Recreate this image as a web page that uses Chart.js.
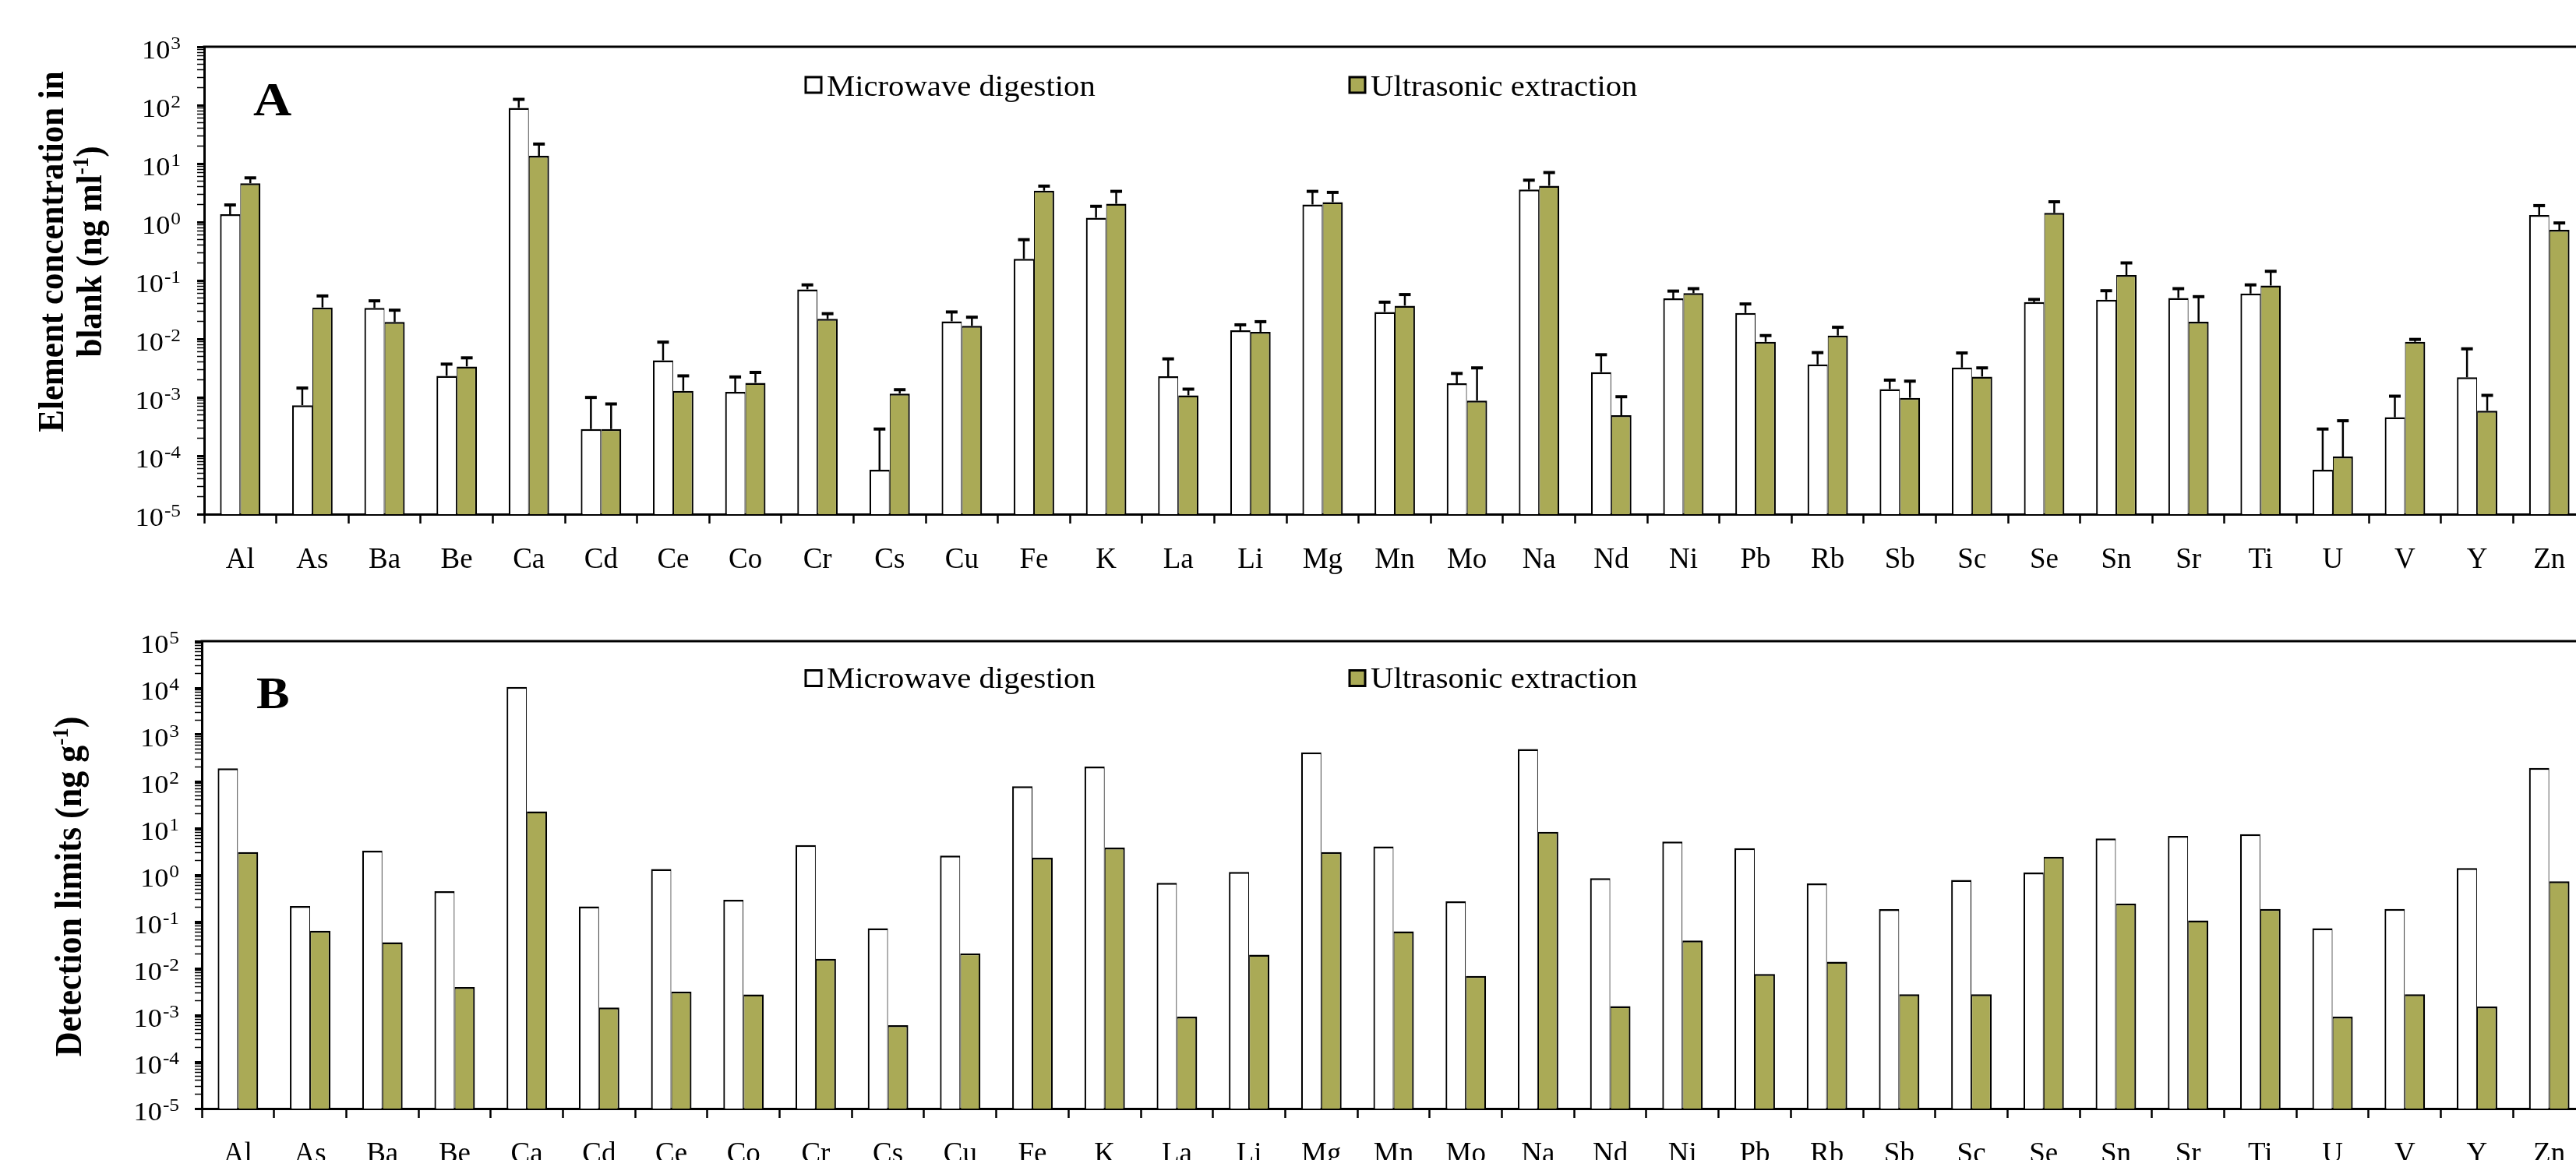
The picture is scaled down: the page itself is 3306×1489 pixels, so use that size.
<!DOCTYPE html>
<html>
<head>
<meta charset="utf-8">
<title>Element blanks and detection limits</title>
<script src="https://cdn.jsdelivr.net/npm/chart.js@4.4.1/dist/chart.umd.min.js"></script>
<style>
  html, body { margin: 0; padding: 0; background: #fff; overflow: hidden; }
  #wrap { position: relative; width: 3306px; height: 1489px; overflow: hidden; background: #fff; }
  canvas { position: absolute; left: 0; }
  #blankChart { top: 0; }
  #dlChart { top: 745px; }
</style>
</head>
<body>
<div id="wrap">
  <canvas id="blankChart" width="3330" height="745"></canvas>
  <canvas id="dlChart" width="3330" height="744"></canvas>
</div>
<script>
// data
const elements = ['Al', 'As', 'Ba', 'Be', 'Ca', 'Cd', 'Ce', 'Co', 'Cr', 'Cs', 'Cu', 'Fe', 'K', 'La', 'Li', 'Mg',
    'Mn', 'Mo', 'Na', 'Nd', 'Ni', 'Pb', 'Rb', 'Sb', 'Sc', 'Se', 'Sn', 'Sr', 'Ti', 'U', 'V', 'Y', 'Zn'];
const methodNames = ['Microwave digestion', 'Ultrasonic extraction'];

// A: element concentration in blank (ng ml-1), mean and SD
const blankMicrowave = [1.36, 0.00073, 0.034, 0.00233, 89.8, 0.000286, 0.0043, 0.00124, 0.0705, 0.0000575, 0.020,
    0.235, 1.18, 0.00229, 0.014, 1.99, 0.0289, 0.00174, 3.59, 0.0027, 0.0493, 0.0277, 0.00366, 0.00138, 0.00323,
    0.0425, 0.0467, 0.05, 0.0597, 0.0000575, 0.000456, 0.0022, 1.32];
const blankMicrowaveSd = [0.60, 0.00071, 0.0108, 0.00137, 36, 0.00071, 0.0045, 0.00099, 0.0135, 0.000229, 0.0089,
    0.264, 0.68, 0.00226, 0.0034, 1.36, 0.0136, 0.00082, 1.61, 0.00266, 0.0165, 0.0119, 0.00216, 0.00059, 0.00251,
    0.0048, 0.020, 0.0224, 0.0243, 0.000229, 0.00059, 0.00456, 0.59];
const blankUltrasonic = [4.6, 0.0345, 0.0195, 0.00337, 13.6, 0.000286, 0.00129, 0.00177, 0.022, 0.00116, 0.0167,
    3.44, 2.05, 0.00108, 0.0132, 2.19, 0.037, 0.00088, 4.17, 0.000494, 0.0605, 0.0089, 0.0114, 0.00098, 0.00226,
    1.43, 0.1236, 0.0197, 0.0818, 0.000097, 0.0089, 0.00059, 0.733];
const blankUltrasonicSd = [1.1, 0.0198, 0.0115, 0.00137, 8.0, 0.000484, 0.00104, 0.0009, 0.005, 0.00019, 0.0068,
    0.68, 1.3, 0.0003, 0.0065, 1.03, 0.0204, 0.00231, 2.86, 0.00053, 0.0119, 0.0025, 0.0044, 0.00091, 0.00093,
    0.79, 0.076, 0.0331, 0.0617, 0.0003, 0.0009, 0.00049, 0.231];

// B: detection limits (ng g-1)
const dlMicrowave = [190, 0.215, 3.28, 0.447, 10470, 0.212, 1.33, 0.294, 4.33, 0.072, 2.58, 78.5, 207, 0.676, 1.16,
    416, 4.05, 0.27, 494, 0.847, 5.15, 3.71, 0.653, 0.184, 0.778, 1.12, 6.02, 6.8, 7.42, 0.072, 0.187, 1.40, 194];
const dlUltrasonic = [3.06, 0.064, 0.036, 0.00398, 22.9, 0.00146, 0.00318, 0.00277, 0.016, 0.00061, 0.021, 2.32,
    3.84, 0.00093, 0.0196, 3.06, 0.0618, 0.0069, 8.37, 0.00156, 0.0394, 0.0076, 0.0139, 0.0028, 0.0028, 2.44, 0.243,
    0.106, 0.187, 0.00093, 0.0028, 0.00153, 0.726];

// y tick labels are powers of ten
const blankExponents = [-5, -4, -3, -2, -1, 0, 1, 2, 3];
const dlExponents = [-5, -4, -3, -2, -1, 0, 1, 2, 3, 4, 5];

const FONT = "'Liberation Serif', 'Times New Roman', serif";
const STRETCH = 1.1;   // the original figure is a little wide
const GREEN = '#aaaa56';

// per-panel decoration (positions in canvas pixels)
const panels = {
    blankChart: {
        letter: 'A', letterX: 325, letterY: 148, letterSize: 62,
        boxTop: 99, textBase: 123,
        tickRight: 232,
        exponents: blankExponents,
        titleY: 323, titleSize: 43,
        title: [
            {x: 81, parts: [['Element concentration in', false]]},
            {x: 130, parts: [['blank (ng ml', false], ['-1', true], [')', false]]}
        ],
        errors: [blankMicrowaveSd, blankUltrasonicSd]
    },
    dlChart: {
        letter: 'B', letterX: 329, letterY: 164, letterSize: 58,
        boxTop: 115.5, textBase: 138,
        tickRight: 230,
        exponents: dlExponents,
        titleY: 393, titleSize: 44,
        title: [
            {x: 104, parts: [['Detection limits (ng g', false], ['-1', true], [')', false]]}
        ],
        errors: null
    }
};

function stretchedText(ctx, str, x, y, font, align) {
    ctx.save();
    ctx.font = font;
    const w = ctx.measureText(str).width * STRETCH;
    let left = x;
    if (align === 'right') left = x - w;
    else if (align === 'center') left = x - w / 2;
    ctx.translate(left, y);
    ctx.scale(STRETCH, 1);
    ctx.textAlign = 'left';
    ctx.textBaseline = 'alphabetic';
    ctx.fillStyle = '#000';
    ctx.fillText(str, 0, 0);
    ctx.restore();
    return w;
}

function rotatedTitle(ctx, line, cy, size) {
    const big = 'bold ' + size + 'px ' + FONT;
    const small = 'bold ' + Math.round(size * 0.62) + 'px ' + FONT;
    ctx.save();
    ctx.translate(line.x, cy);
    ctx.scale(STRETCH, 1);
    ctx.rotate(-Math.PI / 2);
    ctx.fillStyle = '#000';
    ctx.textBaseline = 'alphabetic';
    ctx.textAlign = 'left';
    let total = 0;
    line.parts.forEach(p => {
        ctx.font = p[1] ? small : big;
        total += ctx.measureText(p[0]).width;
    });
    let pos = -total / 2;
    line.parts.forEach(p => {
        ctx.font = p[1] ? small : big;
        ctx.fillText(p[0], pos, p[1] ? -size * 0.36 : 0);
        pos += ctx.measureText(p[0]).width;
    });
    ctx.restore();
}

const decor = {
    id: 'panelDecor',
    afterDatasetsDraw(chart) {
        const cfg = panels[chart.canvas.id];
        if (!cfg.errors) return;
        const ctx = chart.ctx;
        const yScale = chart.scales.y;
        ctx.save();
        ctx.strokeStyle = '#000';
        chart.data.datasets.forEach((ds, i) => {
            const meta = chart.getDatasetMeta(i);
            const sd = cfg.errors[i];
            meta.data.forEach((bar, j) => {
                const yTop = yScale.getPixelForValue(ds.data[j] + sd[j]);
                ctx.lineWidth = 2.5;
                ctx.beginPath();
                ctx.moveTo(bar.x, bar.y);
                ctx.lineTo(bar.x, yTop);
                ctx.stroke();
                ctx.lineWidth = 4;
                ctx.beginPath();
                ctx.moveTo(bar.x - 7.5, yTop);
                ctx.lineTo(bar.x + 7.5, yTop);
                ctx.stroke();
            });
        });
        ctx.restore();
    },
    afterDraw(chart) {
        const cfg = panels[chart.canvas.id];
        const ctx = chart.ctx;
        const area = chart.chartArea;
        const yScale = chart.scales.y;

        // top frame line
        ctx.save();
        ctx.strokeStyle = '#000';
        ctx.lineWidth = 3;
        ctx.beginPath();
        ctx.moveTo(area.left - 1.5, area.top);
        ctx.lineTo(area.right, area.top);
        ctx.stroke();
        ctx.restore();

        // y tick labels 10^n
        const baseFont = '33px ' + FONT;
        const expFont = '23px ' + FONT;
        cfg.exponents.forEach(e => {
            const y = yScale.getPixelForValue(Math.pow(10, e));
            const ew = stretchedText(ctx, String(e), cfg.tickRight, y + 3, expFont, 'right');
            stretchedText(ctx, '10', cfg.tickRight - ew - 1, y + 15, baseFont, 'right');
        });

        // axis title
        cfg.title.forEach(line => rotatedTitle(ctx, line, cfg.titleY, cfg.titleSize));

        // panel letter
        stretchedText(ctx, cfg.letter, cfg.letterX, cfg.letterY, 'bold ' + cfg.letterSize + 'px ' + FONT, 'left');

        // legend
        const boxX = [1034, 1732];
        const fills = ['#ffffff', GREEN];
        methodNames.forEach((name, i) => {
            ctx.save();
            ctx.fillStyle = fills[i];
            ctx.strokeStyle = '#000';
            ctx.lineWidth = 3;
            ctx.fillRect(boxX[i], cfg.boxTop, 20, 20);
            ctx.strokeRect(boxX[i], cfg.boxTop, 20, 20);
            ctx.restore();
            stretchedText(ctx, name, boxX[i] + 27, cfg.textBase, '37px ' + FONT, 'left');
        });
    }
};

function buildChart(id, seriesA, seriesB, maxExp, plotTop, xHeight, yWidth) {
    const minExp = -5;
    return new Chart(document.getElementById(id), {
        type: 'bar',
        data: {
            labels: elements,
            datasets: [{
                label: methodNames[0],
                data: seriesA,
                backgroundColor: '#ffffff',
                borderColor: '#000000',
                borderWidth: {top: 2.5, left: 2.2, right: 1.1, bottom: 0}
            }, {
                label: methodNames[1],
                data: seriesB,
                backgroundColor: GREEN,
                borderColor: '#000000',
                borderWidth: {top: 2.5, left: 1.1, right: 2.2, bottom: 0}
            }]
        },
        options: {
            responsive: false,
            animation: false,
            devicePixelRatio: 1,
            layout: { padding: { left: 0, top: plotTop, right: 12, bottom: 0 } },
            categoryPercentage: 0.56,
            barPercentage: 1.0,
            plugins: {
                legend: { display: false },
                tooltip: { enabled: false }
            },
            scales: {
                x: {
                    grid: {
                        display: true,
                        drawOnChartArea: false,
                        drawTicks: true,
                        tickLength: 12,
                        tickWidth: 2.5,
                        tickColor: '#000'
                    },
                    border: { display: true, color: '#000', width: 3 },
                    ticks: {
                        autoSkip: false,
                        maxRotation: 0,
                        padding: 25,
                        color: '#000',
                        font: { family: FONT, size: 37 }
                    },
                    afterFit: function(scale) { scale.height = xHeight; }
                },
                y: {
                    type: 'logarithmic',
                    min: Math.pow(10, minExp),
                    max: Math.pow(10, maxExp),
                    grid: {
                        display: true,
                        drawOnChartArea: false,
                        drawTicks: true,
                        tickLength: 9,
                        tickColor: '#000',
                        tickWidth: function(c) { return c.tick && c.tick.major ? 3 : 1.5; }
                    },
                    border: { display: true, color: '#000', width: 3 },
                    ticks: { display: false, autoSkip: false },
                    afterBuildTicks: function(scale) {
                        const ticks = [];
                        for (let e = minExp; e < maxExp; e++) {
                            for (let m = 1; m < 10; m++) {
                                ticks.push({ value: m * Math.pow(10, e), major: m === 1 });
                            }
                        }
                        ticks.push({ value: Math.pow(10, maxExp), major: true });
                        scale.ticks = ticks;
                    },
                    afterFit: function(scale) { scale.width = yWidth; }
                }
            }
        },
        plugins: [decor]
    });
}

buildChart('blankChart', blankMicrowave, blankUltrasonic, 3, 60, 85, 262);
buildChart('dlChart', dlMicrowave, dlUltrasonic, 5, 78, 66, 259);
</script>
</body>
</html>
